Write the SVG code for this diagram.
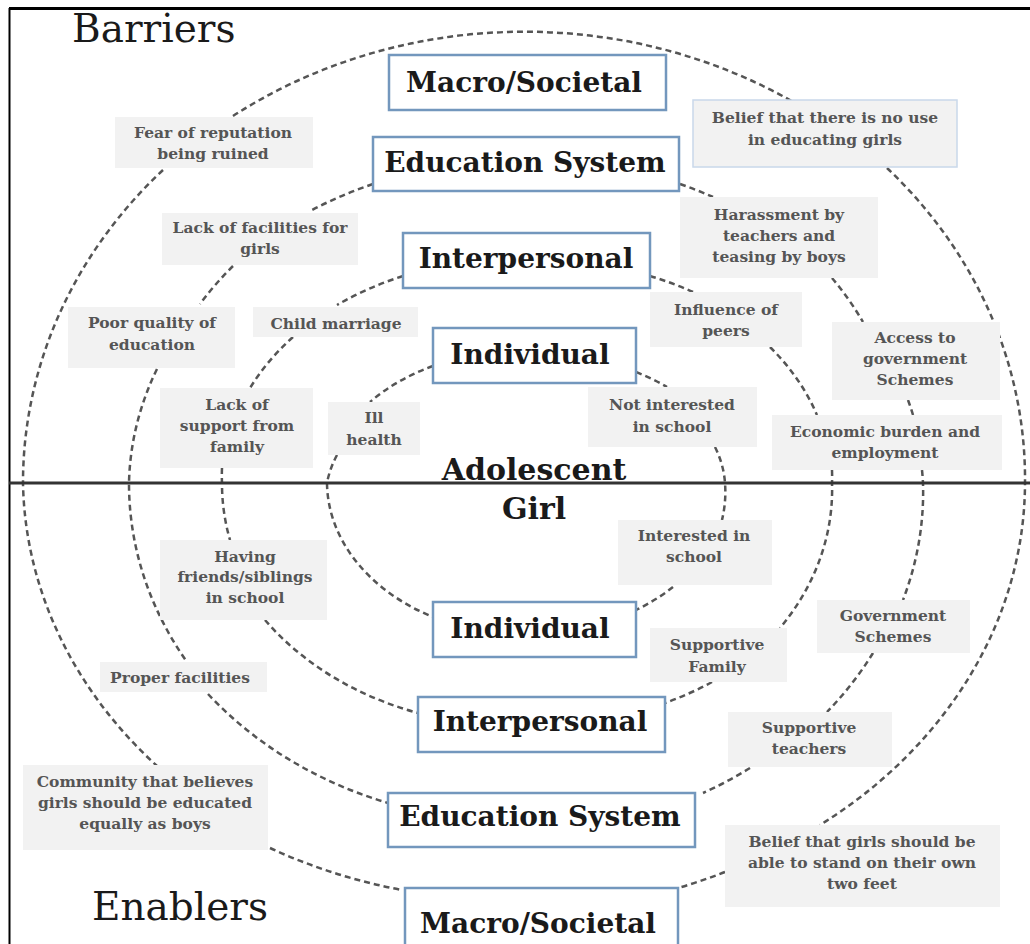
<svg xmlns="http://www.w3.org/2000/svg" width="1030" height="944" viewBox="0 0 1030 944">
<style>
.bg{fill:#ffffff}
.conn path{fill:none;stroke:#555;stroke-width:2.5;stroke-dasharray:6 4}
.lvl rect{fill:#ffffff;stroke:#7397bd;stroke-width:2.5}
.lvl text{font-family:"DejaVu Serif","Liberation Serif",serif;font-weight:bold;font-size:28px;fill:#1a1a1a;text-anchor:middle}
.lab rect{fill:#f2f2f2}
.lab text{font-family:"DejaVu Serif","Liberation Serif",serif;font-weight:bold;font-size:15.5px;fill:#555;text-anchor:middle}
.title{font-family:"DejaVu Serif","Liberation Serif",serif;font-size:39px;fill:#1a1a1a}
.center{font-family:"DejaVu Serif","Liberation Serif",serif;font-weight:bold;font-size:30px;fill:#1a1a1a;text-anchor:middle}
</style>
<rect class="bg" x="0" y="0" width="1030" height="944"/>
<g id="frame">
<line x1="9" y1="8.5" x2="1030" y2="8.5" stroke="#000" stroke-width="3"/>
<line x1="9.5" y1="8" x2="9.5" y2="944" stroke="#000" stroke-width="2"/>
</g>
<g id="connectors" class="conn">
<path d="M233,116 A501,451 0 0 1 795,103"/>
<path d="M163,170 A501,451 0 0 0 23,483 A501,425 0 0 0 157,766"/>
<path d="M270,848 A501,425 0 0 0 402,890"/>
<path d="M887,168 A501,451 0 0 1 1025,483 A501,425 0 0 1 820,825"/>
<path d="M725,872 A501,425 0 0 1 678,888"/>
<path d="M373,184 A397,324 0 0 0 312,210"/>
<path d="M233,266 A397,324 0 0 0 200,304"/>
<path d="M157,369 A397,324 0 0 0 129,483 A397,343 0 0 0 187,662"/>
<path d="M208,694 A397,343 0 0 0 388,803"/>
<path d="M680,184 A397,324 0 0 1 713,197"/>
<path d="M832,278 A397,324 0 0 1 863,322"/>
<path d="M908,400 A397,324 0 0 1 913,415"/>
<path d="M922,470 A397,324 0 0 1 923,483 A397,343 0 0 1 903,600"/>
<path d="M873,653 A397,343 0 0 1 827,712"/>
<path d="M750,768 A397,343 0 0 1 703,793"/>
<path d="M403,276 A305,228 0 0 0 337,305"/>
<path d="M293,337 A305,228 0 0 0 250,388"/>
<path d="M222,468 A305,228 0 0 0 222,483 A305,247 0 0 0 230,540"/>
<path d="M265,620 A305,247 0 0 0 418,713"/>
<path d="M650,276 A305,228 0 0 1 693,292"/>
<path d="M770,347 A305,228 0 0 1 817,415"/>
<path d="M832,470 A305,228 0 0 1 832,483 A305,247 0 0 1 780,628"/>
<path d="M712,682 A305,247 0 0 1 665,703"/>
<path d="M433,366 A199,133 0 0 0 370,402"/>
<path d="M337,455 A199,133 0 0 0 327,483 A199,153 0 0 0 433,617"/>
<path d="M636,372 A199,133 0 0 1 667,387"/>
<path d="M715,447 A199,133 0 0 1 725,483 A199,153 0 0 1 722,520"/>
<path d="M673,587 A199,153 0 0 1 636,610"/>
</g>
<line id="divider" x1="9" y1="483" x2="1030" y2="483" stroke="#333" stroke-width="3"/>
<text class="title" x="72" y="42">Barriers</text>
<text class="title" x="92" y="920">Enablers</text>
<g id="center-node">
<text class="center" x="534" y="480">Adolescent</text>
<text class="center" x="534" y="519">Girl</text>
</g>
<g id="lvl-macro-top" class="lvl"><rect x="389" y="55" width="277" height="55"/><text x="524" y="92">Macro/Societal</text></g>
<g id="lvl-edu-top" class="lvl"><rect x="373" y="137" width="306" height="54"/><text x="525" y="172">Education System</text></g>
<g id="lvl-inter-top" class="lvl"><rect x="403" y="233" width="247" height="55"/><text x="526" y="268">Interpersonal</text></g>
<g id="lvl-indiv-top" class="lvl"><rect x="433" y="328" width="203" height="55"/><text x="530" y="364">Individual</text></g>
<g id="lvl-indiv-bot" class="lvl"><rect x="433" y="602" width="203" height="55"/><text x="530" y="638">Individual</text></g>
<g id="lvl-inter-bot" class="lvl"><rect x="418" y="697" width="247" height="55"/><text x="540" y="731">Interpersonal</text></g>
<g id="lvl-edu-bot" class="lvl"><rect x="388" y="793" width="307" height="54"/><text x="540" y="826">Education System</text></g>
<g id="lvl-macro-bot" class="lvl"><rect x="405" y="888" width="273" height="60"/><text x="538" y="933">Macro/Societal</text></g>
<g id="lab-fear" class="lab"><rect x="115" y="117" width="198" height="51"/><text x="213" y="138">Fear of reputation</text><text x="213" y="159">being ruined</text></g>
<g id="lab-lackfac" class="lab"><rect x="162" y="213" width="196" height="52"/><text x="260" y="233">Lack of facilities for</text><text x="260" y="254">girls</text></g>
<g id="lab-poorq" class="lab"><rect x="68" y="307" width="167" height="61"/><text x="152" y="328">Poor quality of</text><text x="152" y="350">education</text></g>
<g id="lab-child" class="lab"><rect x="253" y="307" width="165" height="30"/><text x="336" y="329">Child marriage</text></g>
<g id="lab-lacksup" class="lab"><rect x="160" y="388" width="153" height="80"/><text x="237" y="410">Lack of</text><text x="237" y="431">support from</text><text x="237" y="452">family</text></g>
<g id="lab-ill" class="lab"><rect x="328" y="402" width="92" height="53"/><text x="374" y="423">Ill</text><text x="374" y="445">health</text></g>
<g id="lab-belief1" class="lab"><rect x="693" y="100" width="264" height="67" style="stroke:#c9d8ea;stroke-width:1.5"/><text x="825" y="123">Belief that there is no use</text><text x="825" y="145">in educating girls</text></g>
<g id="lab-harass" class="lab"><rect x="680" y="197" width="198" height="81"/><text x="779" y="220">Harassment by</text><text x="779" y="241">teachers and</text><text x="779" y="262">teasing by boys</text></g>
<g id="lab-influence" class="lab"><rect x="650" y="292" width="152" height="55"/><text x="726" y="315">Influence of</text><text x="726" y="336">peers</text></g>
<g id="lab-access" class="lab"><rect x="832" y="322" width="168" height="78"/><text x="915" y="343">Access to</text><text x="915" y="364">government</text><text x="915" y="385">Schemes</text></g>
<g id="lab-notint" class="lab"><rect x="588" y="387" width="169" height="60"/><text x="672" y="410">Not interested</text><text x="672" y="432">in school</text></g>
<g id="lab-econ" class="lab"><rect x="772" y="415" width="230" height="55"/><text x="885" y="437">Economic burden and</text><text x="885" y="458">employment</text></g>
<g id="lab-intin" class="lab"><rect x="618" y="520" width="154" height="65"/><text x="694" y="541">Interested in</text><text x="694" y="562">school</text></g>
<g id="lab-having" class="lab"><rect x="160" y="540" width="167" height="80"/><text x="245" y="562">Having</text><text x="245" y="582">friends/siblings</text><text x="245" y="603">in school</text></g>
<g id="lab-gov" class="lab"><rect x="817" y="600" width="153" height="53"/><text x="893" y="621">Government</text><text x="893" y="642">Schemes</text></g>
<g id="lab-supfam" class="lab"><rect x="650" y="628" width="137" height="54"/><text x="717" y="650">Supportive</text><text x="717" y="672">Family</text></g>
<g id="lab-proper" class="lab"><rect x="100" y="662" width="167" height="30"/><text x="180" y="683">Proper facilities</text></g>
<g id="lab-supteach" class="lab"><rect x="728" y="712" width="164" height="55"/><text x="809" y="733">Supportive</text><text x="809" y="754">teachers</text></g>
<g id="lab-community" class="lab"><rect x="23" y="765" width="245" height="85"/><text x="145" y="787">Community that believes</text><text x="145" y="808">girls should be educated</text><text x="145" y="829">equally as boys</text></g>
<g id="lab-belief2" class="lab"><rect x="725" y="825" width="275" height="82"/><text x="862" y="847">Belief that girls should be</text><text x="862" y="868">able to stand on their own</text><text x="862" y="889">two feet</text></g>
</svg>
